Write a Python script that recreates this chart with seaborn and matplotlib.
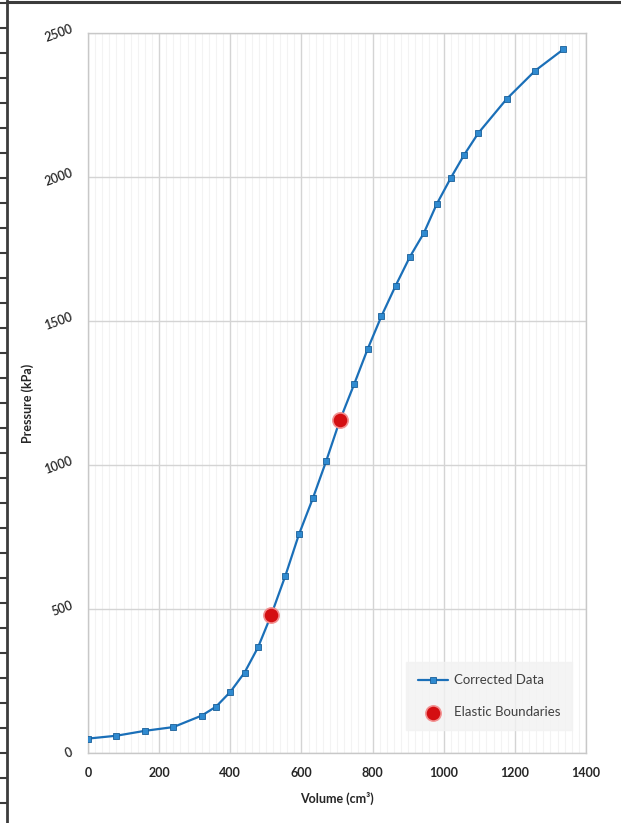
import matplotlib
matplotlib.use("Agg")
import matplotlib.pyplot as plt
from matplotlib.lines import Line2D
from matplotlib.ticker import MultipleLocator
import seaborn as sns
import pandas as pd

# Corrected pressuremeter curve
volume = [0, 80, 160, 240, 320, 360, 400, 440, 478, 515, 555, 593, 632, 670,
          708, 748, 786, 825, 865, 905, 944, 980, 1020, 1057, 1097, 1177, 1257, 1336]
pressure = [50, 60, 77, 90, 130, 161, 212, 279, 367, 479, 616, 759, 884, 1015,
            1155, 1280, 1402, 1517, 1623, 1723, 1805, 1905, 1997, 2076, 2152,
            2271, 2369, 2443]

# Limits of the elastic (linear) section
boundary_volume = [515, 708]
boundary_pressure = [479, 1155]

x_ticks = [0, 200, 400, 600, 800, 1000, 1200, 1400]
y_ticks = [0, 500, 1000, 1500, 2000, 2500]

sns.set_theme(style="white")
plt.rcParams["font.family"] = ["Lato", "DejaVu Sans"]

fig = plt.figure(figsize=(6.21, 8.23), dpi=100)
ax = fig.add_axes([88 / 621, 70 / 823, 498 / 621, 720 / 823])

curve = pd.DataFrame({"Volume": volume, "Pressure": pressure})
bounds = pd.DataFrame({"Volume": boundary_volume, "Pressure": boundary_pressure})

sns.lineplot(data=curve, x="Volume", y="Pressure", ax=ax, color="#1a6fb8",
             linewidth=1.6, marker="s", markersize=5,
             markerfacecolor="#2f8ad0", markeredgecolor="#1a5f98",
             markeredgewidth=0.6, label="Corrected Data", zorder=3)
sns.scatterplot(data=bounds, x="Volume", y="Pressure", ax=ax, s=120,
                color="#d40f12", edgecolor="#f29090", linewidth=1.2,
                label="Elastic Boundaries", zorder=4)

ax.set_xlim(0, 1400)
ax.set_ylim(0, 2500)
ax.set_xticks(x_ticks)
ax.set_yticks(y_ticks)
ax.xaxis.set_minor_locator(MultipleLocator(20))
ax.grid(True, which="major", color="#d4d4d4", linewidth=1.0)
ax.grid(True, which="minor", axis="x", color="#f3f3f3", linewidth=0.8)
ax.set_axisbelow(True)
for s in ax.spines.values():
    s.set_color("#c8c8c8")
    s.set_linewidth(1.0)

ax.tick_params(axis="both", length=0)
ax.tick_params(axis="x", pad=10, labelsize=9, labelcolor="#262626")
ax.tick_params(axis="y", pad=10, labelsize=9, labelcolor="#262626")
for t in ax.get_xticklabels():
    t.set_fontweight("bold")
for t in ax.get_yticklabels():
    t.set_rotation(20)
    t.set_ha("right")
    t.set_va("center")
    t.set_fontweight("semibold")

ax.set_xlabel("Volume (cm³)", fontsize=9, fontweight="bold", color="#262626",
              labelpad=9)
ax.set_ylabel("Pressure (kPa)", fontsize=9, fontweight="bold", color="#262626")
ax.yaxis.set_label_coords(-0.108, 0.485)

leg = ax.legend(loc="lower right", bbox_to_anchor=(0.972, 0.032), frameon=True,
                fancybox=False, facecolor="#f2f2f2", edgecolor="#f2f2f2",
                fontsize=9.5, labelspacing=1.5, handlelength=2.3,
                handletextpad=0.4, borderpad=0.9, borderaxespad=0)
for t in leg.get_texts():
    t.set_color("#404040")

# Page ruler on the left edge and rule along the top
W, H = 621, 823
fig.add_artist(Line2D([7 / W, 7 / W], [0, 1], color="#3c3c3c", linewidth=2.0))
fig.add_artist(Line2D([7 / W, 1], [1 - 2 / H, 1 - 2 / H], color="#3c3c3c",
                      linewidth=2.2))
for yy in range(3, H, 25):
    fig.add_artist(Line2D([0, 7 / W], [1 - yy / H, 1 - yy / H],
                          color="#3c3c3c", linewidth=1.5))

fig.savefig("out.png", dpi=100)
